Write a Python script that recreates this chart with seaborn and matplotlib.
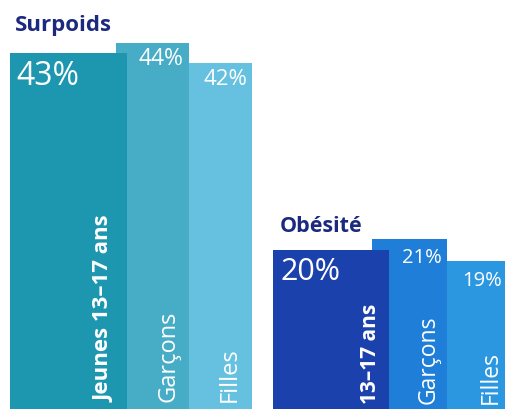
import matplotlib
matplotlib.use("Agg")
import matplotlib.pyplot as plt
import pandas as pd
import seaborn as sns

# Data
categories_surpoids = ["Jeunes 13–17 ans", "Garçons", "Filles"]
values_surpoids = [43, 44, 42]
categories_obesite = ["13–17 ans", "Garçons", "Filles"]
values_obesite = [20, 21, 19]
group_titles = ["Surpoids", "Obésité"]

sns.set_theme(style="white")
plt.rcParams["font.family"] = ["Open Sans", "DejaVu Sans"]

W, H = 505, 409
fig = plt.figure(figsize=(W / 100, H / 100), dpi=100)
fig.patch.set_facecolor("white")

TITLE_COLOR = "#1b2a7e"


def px(x, y):
    """Pixel position measured from the top-left corner -> figure fraction."""
    return x / W, 1 - y / H


def draw_group(ax, cats, vals, colors, lefts, widths, zorders, ylim,
               label_specs, cat_specs, title, title_xy, title_size):
    df = pd.DataFrame({"cat": cats, "val": vals})
    sns.barplot(data=df, x="cat", y="val", hue="cat", palette=colors,
                saturation=1, legend=False, ax=ax, linewidth=0,
                order=cats, hue_order=cats)
    for cont, left, w, z in zip(ax.containers, lefts, widths, zorders):
        for bar in cont:
            bar.set_x(left)
            bar.set_width(w)
            bar.set_zorder(z)
    ax.set_xlim(0, W)
    ax.set_ylim(*ylim)
    ax.axis("off")
    ax.patch.set_alpha(0)

    # value labels anchored to the bar tops
    for (left, w), v, (ha, dx, dy, size) in zip(zip(lefts, widths), vals, label_specs):
        xref = left if ha == "left" else left + w
        ax.annotate(f"{v}%", xy=(xref, v), xytext=(dx, -dy),
                    textcoords="offset pixels", ha=ha, va="baseline",
                    color="white", fontsize=size, zorder=10,
                    annotation_clip=False)

    # rotated category names
    for c, (cx, by, weight, size) in zip(cats, cat_specs):
        fx, fy = px(cx, by)
        fig.text(fx, fy, c, rotation=90, ha="center", va="bottom",
                 color="white", fontsize=size, fontweight=weight, zorder=10)

    tx, ty = px(*title_xy)
    fig.text(tx, ty, title, ha="left", va="baseline", color=TITLE_COLOR,
             fontsize=title_size, fontweight="bold")


ax1 = fig.add_axes([0, 0, 1, 1])
draw_group(
    ax1, categories_surpoids, values_surpoids,
    ["#1d96b0", "#47adc6", "#66c1e0"],
    lefts=[10, 116, 189], widths=[117, 73, 63], zorders=[3, 2, 2],
    ylim=(7.4, 48.3),
    label_specs=[("left", 6, 32, 23), ("right", -6, 22, 16.5), ("right", -5, 22, 16)],
    cat_specs=[(104, 402, "bold", 16), (168.5, 402, "normal", 17), (230, 402, "normal", 17)],
    title=group_titles[0], title_xy=(15, 31), title_size=16,
)

ax2 = fig.add_axes([0, 0, 1, 1])
draw_group(
    ax2, categories_obesite, values_obesite,
    ["#1b41ad", "#1f7fd8", "#2c97e1"],
    lefts=[273, 372, 447], widths=[116, 75, 63], zorders=[3, 2, 2],
    ylim=(5.55, 42.73),
    label_specs=[("left", 7, 30, 22), ("right", -5, 24, 14.5), ("left", 15, 25, 14.5)],
    cat_specs=[(371, 404, "bold", 15), (428.5, 404, "normal", 16.5), (491, 404, "normal", 16.5)],
    title=group_titles[1], title_xy=(280, 232), title_size=15.5,
)

fig.savefig("out.png", dpi=100)
